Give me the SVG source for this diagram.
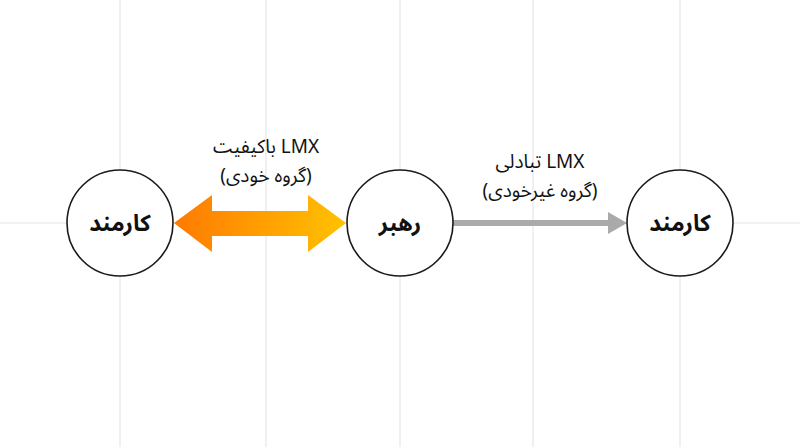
<svg xmlns="http://www.w3.org/2000/svg" width="800" height="447" viewBox="0 0 800 447">
<style>
.grid{stroke:#e6e6e6;stroke-width:1.2;fill:none}
.node{fill:#ffffff;stroke:#1a1a1a;stroke-width:1.6}
.ntext{font-family:"Noto Sans Arabic","Vazirmatn","DejaVu Sans",sans-serif;font-size:23px;font-weight:bold;fill:#111;text-anchor:middle;direction:rtl}
.ltext{font-family:"Noto Sans Arabic","Vazirmatn","DejaVu Sans",sans-serif;font-size:19px;fill:#111;text-anchor:middle;direction:rtl}
</style>
<defs>
<linearGradient id="og" x1="174" y1="0" x2="346" y2="0" gradientUnits="userSpaceOnUse">
<stop offset="0" stop-color="#ff7a00"/>
<stop offset="1" stop-color="#ffc200"/>
</linearGradient>
</defs>
<rect width="800" height="447" fill="#ffffff"/>
<g id="grid">
<line class="grid" x1="120" y1="0" x2="120" y2="447"/>
<line class="grid" x1="266" y1="0" x2="266" y2="447"/>
<line class="grid" x1="400" y1="0" x2="400" y2="447"/>
<line class="grid" x1="533" y1="0" x2="533" y2="447"/>
<line class="grid" x1="680" y1="0" x2="680" y2="447"/>
<line class="grid" x1="0" y1="223" x2="800" y2="223"/>
</g>
<g id="connectors">
<polygon fill="url(#og)" points="174,223 212,195 212,211 308,211 308,195 346,223 308,252 308,236 212,236 212,252"/>
<line x1="453" y1="223" x2="610" y2="223" stroke="#aaaaaa" stroke-width="6"/>
<polygon fill="#aaaaaa" points="608,212 627,223 608,234"/>
</g>
<g id="label-left">
<text class="ltext" x="266" y="153">LMX باکیفیت</text>
<text class="ltext" x="266" y="182">(گروه خودی)</text>
</g>
<g id="label-right">
<text class="ltext" x="540" y="168">LMX تبادلی</text>
<text class="ltext" x="540" y="197">(گروه غیرخودی)</text>
</g>
<g id="node-employee-left">
<circle class="node" cx="120" cy="223" r="53"/>
<text class="ntext" x="120" y="231">کارمند</text>
</g>
<g id="node-leader">
<circle class="node" cx="400" cy="223" r="53"/>
<text class="ntext" x="400" y="231">رهبر</text>
</g>
<g id="node-employee-right">
<circle class="node" cx="680" cy="223" r="53"/>
<text class="ntext" x="680" y="231">کارمند</text>
</g>
</svg>
